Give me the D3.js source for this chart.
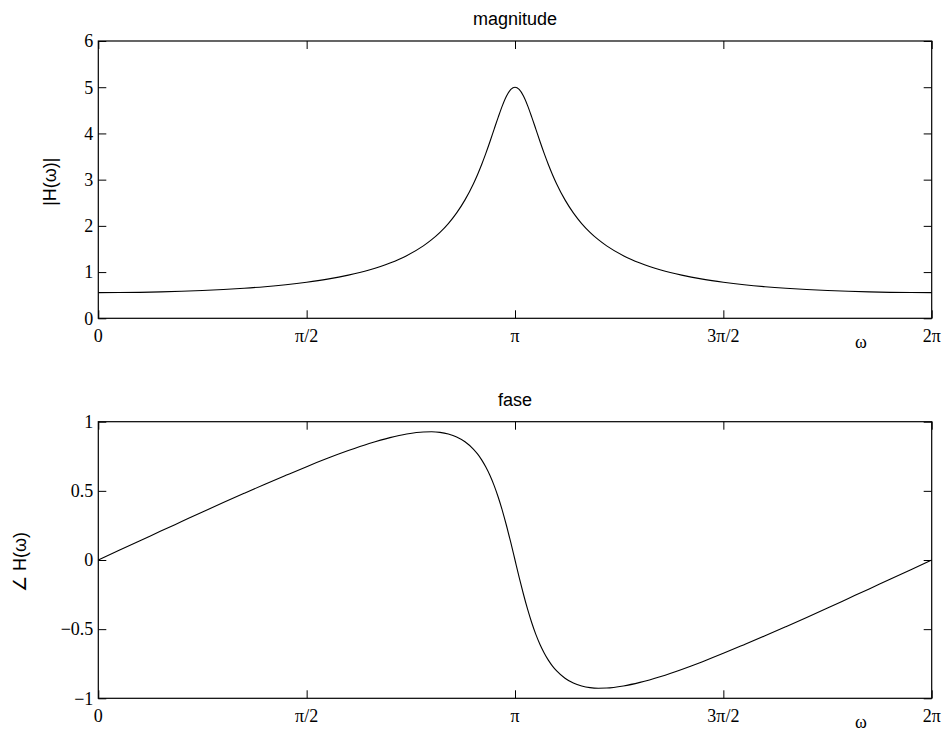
<!DOCTYPE html>
<html>
<head>
<meta charset="utf-8">
<script src="https://cdn.jsdelivr.net/npm/d3@7"></script>
<style>
  html, body { margin: 0; padding: 0; background: #fff; }
  svg { display: block; }
</style>
</head>
<body>
<svg id="chart" width="945" height="733"></svg>
<script>
// frequency samples, in units of pi
const omega = [0, 0.05, 0.1, 0.15, 0.2, 0.25, 0.3, 0.35, 0.4, 0.45, 0.5, 0.55, 0.6, 0.65, 0.7, 0.74, 0.78, 0.8, 0.82, 0.84, 0.86, 0.88, 0.9, 0.91, 0.92, 0.93, 0.94, 0.95, 0.96, 0.97, 0.98, 0.99, 1.0,
  1.01, 1.02, 1.03, 1.04, 1.05, 1.06, 1.07, 1.08, 1.09, 1.1, 1.12, 1.14, 1.16, 1.18, 1.2, 1.22, 1.26, 1.3, 1.35, 1.4, 1.45, 1.5, 1.55, 1.6, 1.65, 1.7, 1.75, 1.8, 1.85, 1.9, 1.95, 2.0];

const magnitude = [0.556, 0.557, 0.562, 0.571, 0.584, 0.601, 0.623, 0.650, 0.684, 0.727, 0.781, 0.848, 0.934, 1.046, 1.196, 1.355, 1.567, 1.701, 1.860, 2.050, 2.281, 2.562, 2.907, 3.108, 3.328, 3.568, 3.825, 4.093, 4.359, 4.608, 4.814, 4.951, 5.000,
  4.951, 4.814, 4.608, 4.359, 4.093, 3.825, 3.568, 3.328, 3.108, 2.907, 2.562, 2.281, 2.050, 1.860, 1.701, 1.567, 1.355, 1.196, 1.046, 0.934, 0.848, 0.781, 0.727, 0.684, 0.650, 0.623, 0.601, 0.584, 0.571, 0.562, 0.557, 0.556];

const phase = [0, 0.070, 0.139, 0.209, 0.278, 0.347, 0.415, 0.482, 0.548, 0.612, 0.675, 0.735, 0.791, 0.842, 0.885, 0.911, 0.926, 0.927, 0.923, 0.911, 0.890, 0.855, 0.802, 0.767, 0.724, 0.672, 0.611, 0.538, 0.452, 0.354, 0.244, 0.125, 0,
  -0.125, -0.244, -0.354, -0.452, -0.538, -0.611, -0.672, -0.724, -0.767, -0.802, -0.855, -0.890, -0.911, -0.923, -0.927, -0.926, -0.911, -0.885, -0.842, -0.791, -0.735, -0.675, -0.612, -0.548, -0.482, -0.415, -0.347, -0.278, -0.209, -0.139, -0.070, 0];

const xTickValues = [0, 0.5, 1, 1.5, 2];
const xTickLabels = ["0", "π/2", "π", "3π/2", "2π"];
const magTicks = [0, 1, 2, 3, 4, 5, 6];
const magTickLabels = ["0", "1", "2", "3", "4", "5", "6"];
const phaseTicks = [-1, -0.5, 0, 0.5, 1];
const phaseTickLabels = ["−1", "−0.5", "0", "0.5", "1"];

const svg = d3.select("#chart");
const left = 98.3, right = 931.7;
const serif = "'Liberation Serif', 'Times New Roman', serif";
const sans = "'Liberation Sans', Arial, Helvetica, sans-serif";

const x = d3.scaleLinear().domain([0, 2]).range([left, right]);

function panel(opts) {
  const y = d3.scaleLinear().domain(opts.domain).range([opts.bottom, opts.top]);
  const g = svg.append("g");
  const tickLen = 8;

  // curve
  const line = d3.line()
    .x((d, i) => x(omega[i]))
    .y(d => y(d))
    .curve(d3.curveMonotoneX);
  g.append("path")
    .datum(opts.values)
    .attr("d", line)
    .attr("fill", "none")
    .attr("stroke", "#000")
    .attr("stroke-width", 1.1);

  // ticks (inward on all four sides)
  const xb = g.append("g").attr("transform", `translate(0,${opts.bottom})`)
    .call(d3.axisBottom(x).tickValues(xTickValues).tickSize(-tickLen).tickFormat(() => ""));
  const xt = g.append("g").attr("transform", `translate(0,${opts.top})`)
    .call(d3.axisTop(x).tickValues(xTickValues).tickSize(-tickLen).tickFormat(() => ""));
  const yl = g.append("g").attr("transform", `translate(${left},0)`)
    .call(d3.axisLeft(y).tickValues(opts.ticks).tickSize(-tickLen).tickFormat(() => ""));
  const yr = g.append("g").attr("transform", `translate(${right},0)`)
    .call(d3.axisRight(y).tickValues(opts.ticks).tickSize(-tickLen).tickFormat(() => ""));
  [xb, xt, yl, yr].forEach(a => {
    a.select(".domain").remove();
    a.selectAll("line").attr("stroke", "#000").attr("stroke-width", 1);
  });

  // box
  g.append("rect")
    .attr("x", left).attr("y", opts.top)
    .attr("width", right - left).attr("height", opts.bottom - opts.top)
    .attr("fill", "none").attr("stroke", "#000").attr("stroke-width", 1.2);

  // x tick labels
  g.selectAll(".xl").data(xTickValues).enter().append("text")
    .attr("x", d => x(d))
    .attr("y", opts.bottom + 24)
    .attr("text-anchor", "middle")
    .attr("font-family", serif).attr("font-size", 18)
    .text((d, i) => xTickLabels[i]);

  // y tick labels
  g.selectAll(".yl").data(opts.ticks).enter().append("text")
    .attr("x", left - 5)
    .attr("y", d => y(d))
    .attr("dy", "0.35em")
    .attr("text-anchor", "end")
    .attr("font-family", serif).attr("font-size", 18)
    .text((d, i) => opts.tickLabels[i]);

  // omega label
  g.append("text")
    .attr("x", 861).attr("y", opts.bottom + 30)
    .attr("text-anchor", "middle")
    .attr("font-family", serif).attr("font-size", 18)
    .text("ω");

  // title
  g.append("text")
    .attr("x", (left + right) / 2).attr("y", opts.top - 16)
    .attr("text-anchor", "middle")
    .attr("font-family", sans).attr("font-size", 18)
    .text(opts.title);

  // y label
  g.append("text")
    .attr("transform", `translate(${opts.ylabelX},${(opts.top + opts.bottom) / 2 + 2}) rotate(-90)`)
    .attr("text-anchor", "middle")
    .attr("dy", "0.35em")
    .attr("font-family", sans).attr("font-size", 18)
    .text(opts.ylabel);
}

panel({ top: 41, bottom: 318.3, domain: [0, 6], ticks: magTicks, tickLabels: magTickLabels,
        values: magnitude, title: "magnitude", ylabel: "|H(ω)|", ylabelX: 50 });
panel({ top: 421.7, bottom: 698.3, domain: [-1, 1], ticks: phaseTicks, tickLabels: phaseTickLabels,
        values: phase, title: "fase", ylabel: "∠ H(ω)", ylabelX: 20 });
</script>
</body>
</html>
